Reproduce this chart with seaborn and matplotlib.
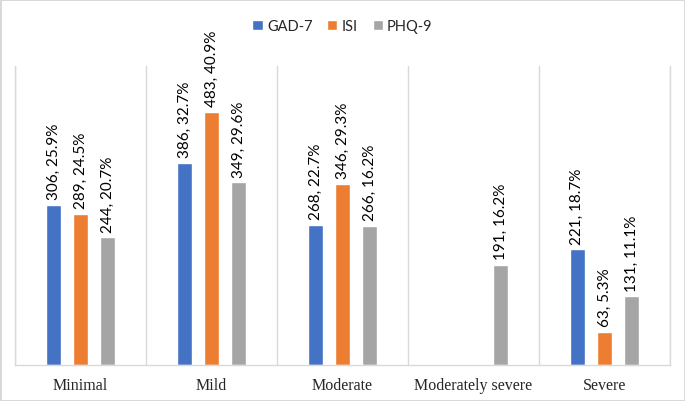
import numpy as np
import pandas as pd
import matplotlib
matplotlib.use('Agg')
import matplotlib.pyplot as plt
import seaborn as sns

categories = ['Minimal', 'Mild', 'Moderate', 'Moderately severe', 'Severe']
scales = ['GAD-7', 'ISI', 'PHQ-9']
gad7_n = [306, 386, 268, np.nan, 221]
gad7_pct = [25.9, 32.7, 22.7, np.nan, 18.7]
isi_n = [289, 483, 346, np.nan, 63]
isi_pct = [24.5, 40.9, 29.3, np.nan, 5.3]
phq9_n = [244, 349, 266, 191, 131]
phq9_pct = [20.7, 29.6, 16.2, 16.2, 11.1]

rows = []
for scale, ns, pcts in zip(scales, [gad7_n, isi_n, phq9_n], [gad7_pct, isi_pct, phq9_pct]):
    for cat, n, p in zip(categories, ns, pcts):
        if not np.isnan(n):
            rows.append({'Category': cat, 'Scale': scale, 'N': n, 'Pct': p})
df = pd.DataFrame(rows)

sns.set_style('white')
plt.rcParams['font.family'] = ['Lato', 'DejaVu Sans']

fig = plt.figure(figsize=(6.85, 4.02), dpi=100, edgecolor='#d9d9d9', linewidth=2)
ax = fig.add_axes([0.022, 0.0896, 0.956, 0.743])

palette = {'GAD-7': '#4472C4', 'ISI': '#ED7D31', 'PHQ-9': '#A5A5A5'}
sns.barplot(data=df, x='Category', y='N', hue='Scale', order=categories,
            hue_order=scales, palette=palette, width=0.62, gap=0.44,
            saturation=1, ax=ax, legend=True)

# label each bar with "n, pct%"
for scale, cont in zip(scales, ax.containers):
    sub = df[df['Scale'] == scale]
    labels = [f'{int(n)}, {p}%' for n, p in zip(sub['N'], sub['Pct'])]
    ax.bar_label(cont, labels=labels, rotation=90, padding=4, fontsize=11, color='black')

ax.set_xlim(-0.5, 4.5)
ax.set_ylim(0, 570)
ax.set_yticks([])
ax.set_xlabel('')
ax.set_ylabel('')
ax.set_xticks(np.arange(-0.5, 5, 1), minor=True)
ax.tick_params(axis='x', which='both', length=0, pad=9)
ax.grid(True, axis='x', which='minor', color='#d9d9d9', linewidth=1)
ax.set_xticks(range(len(categories)))
ax.set_xticklabels(categories, family='Liberation Serif', fontsize=11.5)
ax.spines['top'].set_visible(False)
for side in ['left', 'right', 'bottom']:
    ax.spines[side].set_color('#d9d9d9')
    ax.spines[side].set_linewidth(1)

ax.legend(loc='center', bbox_to_anchor=(0.5, 0.933), bbox_transform=fig.transFigure,
          ncol=3, frameon=False, fontsize=10.5, handlelength=0.7, handleheight=0.7,
          handletextpad=0.3, columnspacing=1.0)

fig.savefig('out.png', dpi=100, edgecolor=fig.get_edgecolor())
